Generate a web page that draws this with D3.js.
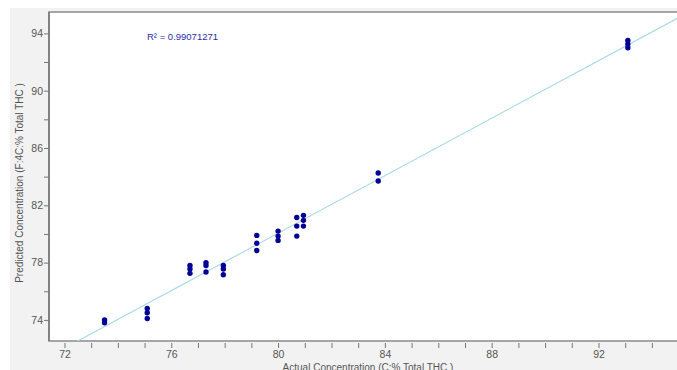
<!DOCTYPE html>
<html>
<head>
<meta charset="utf-8">
<script src="https://cdn.jsdelivr.net/npm/d3@7"></script>
<style>
  body { margin: 0; background: #fff; }
  svg { display: block; font-family: "Liberation Sans", Arial, sans-serif; }
  .axis text { fill: #555; font-size: 10.5px; }
  .axis line { stroke: #777; }
</style>
</head>
<body>
<svg></svg>
<script>
// Actual vs predicted concentration (% total THC)
let actual = [
  73.5, 73.5,
  75.1, 75.1, 75.1,
  76.7, 76.7, 76.7,
  77.3, 77.3, 77.3,
  77.95, 77.95, 77.95,
  79.2, 79.2, 79.2,
  80.0, 80.0, 80.0,
  80.7, 80.7, 80.7,
  80.95, 80.95, 80.95,
  83.75, 83.75,
  93.1, 93.1, 93.1
];
let predicted = [
  74.0, 73.8,
  74.8, 74.5, 74.1,
  77.8, 77.55, 77.25,
  78.0, 77.8, 77.35,
  77.8, 77.55, 77.15,
  79.9, 79.35, 78.85,
  80.2, 79.85, 79.55,
  81.15, 80.55, 79.85,
  81.3, 80.95, 80.55,
  84.25, 83.7,
  93.5, 93.25, 93.0
];
let rSquaredLabel = 'R\u00B2 = 0.99071271';
let xTicks = d3.range(72, 96, 1);
let yTicks = d3.range(74, 95, 2);
let xTitle = 'Actual Concentration (C:% Total THC )';
let yTitle = 'Predicted Concentration (F:4C:% Total THC )';

let svgWidth = 677;
let svgHeight = 370;

let margin = { top: 12, left: 49, bottom: 29 };
let width = 640; // runs past the right edge, as in the source
let height = svgHeight - margin.top - margin.bottom;

let data = actual.map((a, i) => ({ x: a, y: predicted[i] }));

let svg = d3.select('svg')
  .attr('width', svgWidth)
  .attr('height', svgHeight);

// light grey panel behind the plot
svg.append('rect')
  .attr('x', 10)
  .attr('y', 8)
  .attr('width', svgWidth - 10)
  .attr('height', svgHeight - 8)
  .attr('fill', '#f2f2f2');

let g = svg.append('g')
  .attr('transform', 'translate(' + margin.left + ', ' + margin.top + ')');

let xScale = d3.scaleLinear()
  .domain([71.42, 95.39])
  .range([0, width]);

let yScale = d3.scaleLinear()
  .domain([72.53, 95.49])
  .range([height, 0]);

// plot area
g.append('rect')
  .attr('width', width)
  .attr('height', height)
  .attr('fill', '#fff')
  .attr('stroke', '#8a8a8a')
  .attr('stroke-width', 1.5);

g.append('clipPath')
  .attr('id', 'clip')
  .append('rect')
  .attr('width', width)
  .attr('height', height);

// axes
let xAxis = d3.axisBottom(xScale)
  .tickValues(xTicks)
  .tickSize(5)
  .tickPadding(3)
  .tickFormat(d => (d - 72) % 4 === 0 ? d : '');

let yAxis = d3.axisLeft(yScale)
  .tickValues(yTicks)
  .tickSize(5)
  .tickPadding(1)
  .tickFormat(d => (d - 74) % 4 === 0 ? d : '');

g.append('g')
  .attr('class', 'axis')
  .attr('transform', 'translate(0, ' + (height + 2) + ')')
  .call(xAxis)
  .call(a => a.select('.domain').remove());

g.append('g')
  .attr('class', 'axis')
  .call(yAxis)
  .call(a => a.select('.domain').remove());

// left axis line
g.append('line')
  .attr('x1', 0).attr('x2', 0)
  .attr('y1', 0).attr('y2', height)
  .attr('stroke', '#777')
  .attr('stroke-width', 1.5);

// least squares trend line
let mx = d3.mean(data, d => d.x);
let my = d3.mean(data, d => d.y);
let slope = d3.sum(data, d => (d.x - mx) * (d.y - my)) / d3.sum(data, d => (d.x - mx) * (d.x - mx));
let intercept = my - slope * mx;
let xd = xScale.domain();

g.append('line')
  .attr('clip-path', 'url(#clip)')
  .attr('x1', xScale(xd[0]))
  .attr('y1', yScale(intercept + slope * xd[0]))
  .attr('x2', xScale(xd[1]))
  .attr('y2', yScale(intercept + slope * xd[1]))
  .attr('stroke', '#aadbe7')
  .attr('stroke-width', 1.2);

// points
g.selectAll('circle.data-point')
  .data(data)
  .enter()
  .append('circle')
  .attr('class', 'data-point')
  .attr('cx', d => xScale(d.x))
  .attr('cy', d => yScale(d.y))
  .attr('r', 2.7)
  .attr('fill', '#000096');

// R squared label
g.append('text')
  .attr('x', 98)
  .attr('y', 28)
  .attr('fill', '#2b2ba6')
  .attr('font-size', '9.5px')
  .text(rSquaredLabel);

// axis titles
svg.append('text')
  .attr('x', 368)
  .attr('y', 371)
  .attr('text-anchor', 'middle')
  .attr('fill', '#555')
  .attr('font-size', '10px')
  .text(xTitle);

svg.append('text')
  .attr('transform', 'translate(23, 183) rotate(-90)')
  .attr('text-anchor', 'middle')
  .attr('fill', '#555')
  .attr('font-size', '10px')
  .text(yTitle);
</script>
</body>
</html>
